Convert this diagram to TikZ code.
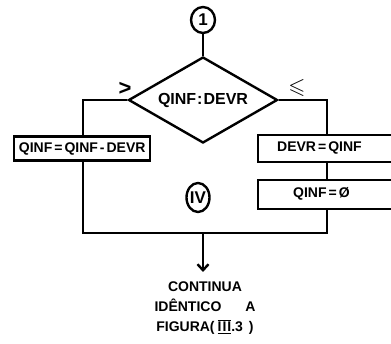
\documentclass[tikz,border=0pt]{standalone}
\usepackage{fontspec}
\usepackage{amssymb}
\setmainfont{Liberation Sans}
\usetikzlibrary{shapes.geometric,arrows.meta}
\tikzset{
  x=1pt,y=-1pt,
  every node/.style={font=\bfseries\fontsize{14}{16}\selectfont, inner sep=0pt},
  line/.style={line width=2.4pt},
  procbox/.style={draw, line width=2.4pt, rectangle, anchor=north west},
  conn/.style={draw, ellipse, line width=2.4pt, font=\bfseries\fontsize{17}{18}\selectfont},
  decision/.style={draw, diamond, line width=2.4pt, aspect=1.73, minimum width=149pt, minimum height=86pt, font=\bfseries\fontsize{16}{18}\selectfont},
  condlabel/.style={font=\bfseries\boldmath\fontsize{22}{24}\selectfont},
}
\begin{document}
\begin{tikzpicture}
\clip (0,0) rectangle (391,344);
\fill[white] (0,0) rectangle (391,344);
% nodes
\node[conn, minimum width=24pt, minimum height=26pt] (c1) at (203,20) {1};
\node[decision] (dia) at (203,100) {QINF\kern1pt:\kern1pt DEVR};
\node[procbox, minimum width=136pt, minimum height=24pt] (lbox) at (13,135.5) {};
\node at (lbox.center) (ltext) {QINF\kern2pt=\kern2pt QINF\kern2pt-\kern2pt DEVR};
\node[procbox, minimum width=150pt, minimum height=27pt] (rbox1) at (257,134) {};
\node[anchor=west] (r1text) at (277,147.5) {DEVR\kern2pt=\kern2pt QINF};
\node[procbox, minimum width=150pt, minimum height=29pt] (rbox2) at (257,179) {};
\node[anchor=west] (r2text) at (293,193.5) {QINF\kern2pt=\kern2pt Ø};
\node[conn, minimum width=23pt, minimum height=29pt] (c4) at (198,197.5) {IV};
\node[condlabel] (gt) at (125,89) {>};
\node[condlabel] (le) at (297,88) {$\leqslant$};
\node[font=\bfseries\fontsize{14}{20}\selectfont, align=center] (txt) at (205,308)
  {CONTINUA\\IDÊNTICO\hspace{24pt}A\\FIGURA(\kern3pt$\overline{\underline{\mbox{\bfseries I\kern1pt I\kern1pt I}}}$.3\kern6pt)};
% coordinates
\coordinate (lc) at (83,100);
\coordinate (rc) at (327,100);
\coordinate (bl) at (83,233);
\coordinate (br) at (327,233);
\coordinate (mid) at (203,233);
\coordinate (arr) at (203,272);
% connectors
\draw[line] (c1.south) -- (dia.north);
\draw[line] (dia.west) -- (lc) -- (lc |- lbox.north);
\draw[line] (dia.east) -- (rc) -- (rc |- rbox1.north);
\draw[line] (rc |- rbox1.south) -- (rc |- rbox2.north);
\draw[line] (bl |- lbox.south) -- (bl) -- (br) -- (br |- rbox2.south);
\draw[line, -{Straight Barb[length=6pt,width=11pt]}] (mid) -- (arr);
\end{tikzpicture}
\end{document}
